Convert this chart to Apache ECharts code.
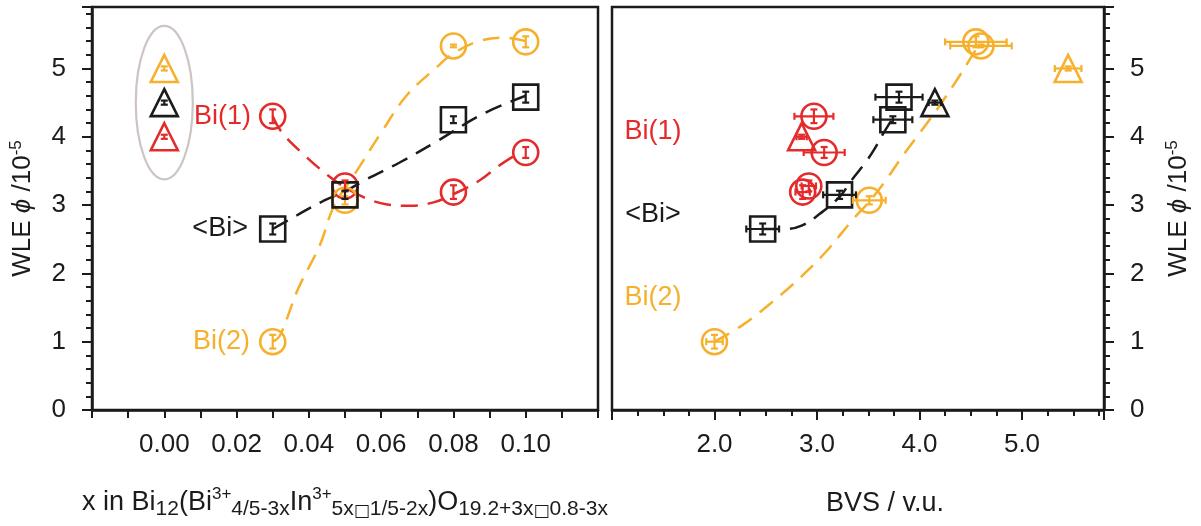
<!DOCTYPE html>
<html>
<head>
<meta charset="utf-8">
<script src="https://cdn.jsdelivr.net/npm/echarts@6/dist/echarts.min.js"></script>
<style>
html, body { margin: 0; padding: 0; background: #fff; }
#chart { width: 1201px; height: 526px; }
</style>
</head>
<body>
<div id="chart"></div>
<script>
// WLE vs composition x (left) and vs BVS (right)
const RED = '#e42a2a';
const YEL = '#f6b02c';
const BLK = '#1b1b1b';
const FONT = '"Liberation Sans", Arial, sans-serif';

// composition x
const compX = [0.03, 0.05, 0.08, 0.10];
const bi1Wle = [4.30, 3.28, 3.19, 3.77];
const bi2Wle = [1.00, 3.07, 5.33, 5.39];
const avgWle = [2.65, 3.15, 4.25, 4.58];
const bi1WleErr = [0.10, 0.08, 0.10, 0.08];
const bi2WleErr = [0.10, 0.06, 0.02, 0.08];
const avgWleErr = [0.08, 0.06, 0.05, 0.08];

// x = 0 reference (triangles): Bi(1), <Bi>, Bi(2)
const refX = 0;
const refWle = [4.00, 4.50, 5.00];
const refWleErr = [0.03, 0.03, 0.03];

// BVS of the same points
const bi1Bvs = [2.97, 2.92, 2.86, 3.07];
const bi2Bvs = [2.00, 3.51, 4.60, 4.55];
const avgBvs = [2.47, 3.22, 3.74, 3.80];
const refBvs = [2.85, 4.15, 5.45];
const bi1BvsErr = [0.19, 0.07, 0.07, 0.20];
const bi2BvsErr = [0.08, 0.16, 0.30, 0.30];
const avgBvsErr = [0.16, 0.16, 0.19, 0.23];
const refBvsErr = [0.05, 0.06, 0.13];

// dashed guide curves
const bi1CurveComp = [[0.03, 4.30], [0.0326, 4.06], [0.039, 3.72], [0.0454, 3.43], [0.05, 3.26], [0.0554, 3.11],
  [0.0617, 3.01], [0.068, 2.99], [0.0745, 3.04], [0.08, 3.16], [0.0872, 3.36], [0.0927, 3.58], [0.098, 3.76]];
const bi2CurveComp = [[0.03, 1.00], [0.032, 1.09], [0.037, 1.77], [0.043, 2.41], [0.047, 2.99], [0.053, 3.48],
  [0.06, 4.06], [0.067, 4.60], [0.075, 5.00], [0.08, 5.22], [0.087, 5.40], [0.094, 5.45], [0.10, 5.40]];
const avgCurveComp = [[0.03, 2.65], [0.033, 2.74], [0.044, 3.06], [0.05, 3.20], [0.056, 3.38], [0.065, 3.62],
  [0.075, 3.92], [0.088, 4.33], [0.10, 4.60]];
const bi2CurveBvs = [[2.00, 1.00], [2.28, 1.25], [2.57, 1.59], [2.83, 1.93], [3.09, 2.32], [3.35, 2.79], [3.51, 3.05],
  [3.67, 3.36], [3.85, 3.75], [4.00, 4.05], [4.18, 4.42], [4.39, 4.89], [4.51, 5.18], [4.57, 5.33]];
const avgCurveBvs = [[2.47, 2.65], [2.70, 2.65], [2.85, 2.70], [3.00, 2.84], [3.22, 3.12], [3.33, 3.35],
  [3.48, 3.64], [3.56, 3.82], [3.64, 4.03], [3.73, 4.25]];

const chart = echarts.init(document.getElementById('chart'));

const zip = (xs, ys) => xs.map((x, i) => [x, ys[i]]);
const zipErr = (xs, ys, ex, ey) => xs.map((x, i) => [x, ys[i], ex ? ex[i] : 0, ey[i]]);

function errRender(color) {
  return function (params, api) {
    const x = api.value(0), y = api.value(1), ex = api.value(2), ey = api.value(3);
    const c = api.coord([x, y]);
    const st = { stroke: color, lineWidth: 2.2, fill: null };
    const kids = [];
    if (ey > 0) {
      const a = api.coord([x, y + ey]), b = api.coord([x, y - ey]);
      kids.push({ type: 'line', shape: { x1: c[0], y1: a[1], x2: c[0], y2: b[1] }, style: st });
      kids.push({ type: 'line', shape: { x1: c[0] - 3.5, y1: a[1], x2: c[0] + 3.5, y2: a[1] }, style: st });
      kids.push({ type: 'line', shape: { x1: c[0] - 3.5, y1: b[1], x2: c[0] + 3.5, y2: b[1] }, style: st });
    }
    if (ex > 0) {
      const l = api.coord([x - ex, y]), r = api.coord([x + ex, y]);
      kids.push({ type: 'line', shape: { x1: l[0], y1: c[1], x2: r[0], y2: c[1] }, style: st });
      kids.push({ type: 'line', shape: { x1: l[0], y1: c[1] - 3.5, x2: l[0], y2: c[1] + 3.5 }, style: st });
      kids.push({ type: 'line', shape: { x1: r[0], y1: c[1] - 3.5, x2: r[0], y2: c[1] + 3.5 }, style: st });
    }
    return { type: 'group', children: kids };
  };
}

function errSeries(data, color, gi) {
  return { type: 'custom', xAxisIndex: gi, yAxisIndex: gi, data: data, renderItem: errRender(color), clip: false, z: 4, silent: true };
}

function curve(data, color, gi) {
  return {
    type: 'line', xAxisIndex: gi, yAxisIndex: gi, data: data, smooth: 0.4, showSymbol: false, symbol: 'none',
    lineStyle: { color: color, width: 2.5, type: [17, 10], opacity: 1 }, z: 2, silent: true
  };
}

function marks(data, symbol, colors, gi, size) {
  return {
    type: 'scatter', xAxisIndex: gi, yAxisIndex: gi, symbol: symbol, symbolSize: size || 25, z: 3, silent: true,
    data: data.map((d, i) => {
      const item = (d && d.value) ? d : { value: d };
      item.itemStyle = { color: 'rgba(0,0,0,0)', borderColor: Array.isArray(colors) ? colors[i] : colors, borderWidth: 2.6, opacity: 1 };
      return item;
    })
  };
}

function tagged(points, text, color, dist) {
  return points.map((p, i) => i === 0 ? {
    value: p,
    label: { show: true, position: 'left', distance: dist, formatter: text, color: color, fontSize: 27, fontFamily: FONT, opacity: 1 }
  } : p);
}

const refColors = [RED, BLK, YEL];
const axisLineStyle = { color: BLK, width: 2.5 };
const tickStyle = { color: BLK, width: 2 };
const labelBase = { color: BLK, fontSize: 26, fontFamily: FONT };

function wleName(gap) {
  return {
    name: 'WLE {i|ϕ} /10{p|-5}', nameLocation: 'middle', nameRotate: 90, nameGap: gap,
    nameTextStyle: {
      color: BLK, fontSize: 26, fontFamily: FONT, lineHeight: 30,
      rich: {
        i: { fontSize: 26, fontFamily: FONT, fontStyle: 'italic', color: BLK },
        p: { fontSize: 17, fontFamily: FONT, color: BLK, verticalAlign: 'top', lineHeight: 17 }
      }
    }
  };
}

const intLabel = v => (Math.abs(v - Math.round(v)) < 1e-6 && v <= 5) ? String(Math.round(v)) : '';

const option = {
  animation: false,
  backgroundColor: '#fff',
  grid: [
    { left: 92, top: 7, width: 506, height: 403, show: true, borderColor: BLK, borderWidth: 2.5, backgroundColor: 'transparent' },
    { left: 612, top: 7, width: 492, height: 403, show: true, borderColor: BLK, borderWidth: 2.5, backgroundColor: 'transparent' }
  ],
  xAxis: [
    {
      gridIndex: 0, type: 'value', position: 'bottom', min: -0.02, max: 0.12, interval: 0.01,
      axisLine: { show: true, onZero: false, lineStyle: axisLineStyle },
      axisTick: { show: true, length: 8, lineStyle: tickStyle },
      splitLine: { show: false },
      axisLabel: Object.assign({}, labelBase, {
        margin: 22,
        formatter: function (v) {
          const r = Math.round(v * 100);
          if (r < 0 || r > 10 || r % 2) return '';
          return (r / 100).toFixed(2);
        }
      }),
      name: 'x in Bi{s|12}(Bi{p|3+}{s|4/5-3x}In{p|3+}{s|5x}{b|□}{s|1/5-2x})O{s|19.2+3x}{b|□}{s|0.8-3x}',
      nameLocation: 'middle', nameGap: 76,
      nameTextStyle: {
        color: BLK, fontSize: 27, fontFamily: FONT, lineHeight: 34,
        rich: {
          s: { fontSize: 21, fontFamily: FONT, color: BLK, verticalAlign: 'bottom', lineHeight: 20 },
          p: { fontSize: 17, fontFamily: FONT, color: BLK, verticalAlign: 'top', lineHeight: 16 },
          b: { fontSize: 17, fontFamily: '"DejaVu Sans", sans-serif', color: BLK, verticalAlign: 'bottom', lineHeight: 26 }
        }
      }
    },
    {
      gridIndex: 1, type: 'value', position: 'bottom', min: 1, max: 5.8, interval: 1,
      axisLine: { show: true, onZero: false, lineStyle: axisLineStyle },
      axisTick: { show: true, length: 10, lineStyle: tickStyle },
      splitLine: { show: false },
      axisLabel: Object.assign({}, labelBase, {
        margin: 22,
        formatter: function (v) {
          return (v >= 2 && v <= 5 && Math.abs(v - Math.round(v)) < 1e-6) ? v.toFixed(1) : '';
        }
      }),
      name: 'BVS / v.u.', nameLocation: 'middle', nameGap: 80,
      nameTextStyle: { color: BLK, fontSize: 27, fontFamily: FONT, padding: [0, 0, 0, 54] }
    },
    {
      gridIndex: 1, type: 'value', position: 'bottom', min: 1, max: 5.8, interval: 0.25,
      axisLine: { show: false, onZero: false },
      axisTick: { show: true, length: 6, lineStyle: tickStyle },
      axisLabel: { show: false }, splitLine: { show: false }
    }
  ],
  yAxis: [
    Object.assign({
      gridIndex: 0, type: 'value', position: 'left', min: 0, max: 5.9, interval: 1,
      axisLine: { show: true, onZero: false, lineStyle: axisLineStyle },
      axisTick: { show: true, length: 10, lineStyle: tickStyle },
      splitLine: { show: false },
      axisLabel: Object.assign({}, labelBase, { margin: 26, formatter: intLabel })
    }, wleName(54)),
    Object.assign({
      gridIndex: 1, type: 'value', position: 'right', min: 0, max: 5.9, interval: 1,
      axisLine: { show: true, onZero: false, lineStyle: axisLineStyle },
      axisTick: { show: true, length: 10, lineStyle: tickStyle },
      splitLine: { show: false },
      axisLabel: Object.assign({}, labelBase, { margin: 26, formatter: intLabel })
    }, wleName(60)),
    {
      gridIndex: 0, type: 'value', position: 'left', min: 0, max: 5.9, interval: 0.2,
      axisLine: { show: false, onZero: false },
      axisTick: { show: true, length: 6, lineStyle: tickStyle },
      axisLabel: { show: false }, splitLine: { show: false }
    },
    {
      gridIndex: 1, type: 'value', position: 'right', min: 0, max: 5.9, interval: 0.2,
      axisLine: { show: false, onZero: false },
      axisTick: { show: true, length: 6, lineStyle: tickStyle },
      axisLabel: { show: false }, splitLine: { show: false }
    }
  ],
  series: [
    // grey ellipse around the x = 0 triangles
    {
      type: 'custom', xAxisIndex: 0, yAxisIndex: 0, clip: false, silent: true, z: 1,
      data: [[refX, Math.min.apply(null, refWle), Math.max.apply(null, refWle)]],
      renderItem: function (params, api) {
        const lo = api.coord([api.value(0), api.value(1)]);
        const hi = api.coord([api.value(0), api.value(2)]);
        return {
          type: 'ellipse',
          shape: { cx: lo[0], cy: (lo[1] + hi[1]) / 2, rx: 28.5, ry: (lo[1] - hi[1]) / 2 + 42.5 },
          style: { fill: null, stroke: '#cdc5c1', lineWidth: 2.2 }
        };
      }
    },
    // left panel
    curve(bi1CurveComp, RED, 0),
    curve(bi2CurveComp, YEL, 0),
    curve(avgCurveComp, BLK, 0),
    marks(tagged(zip(compX, bi1Wle), 'Bi(1)', RED, 8), 'circle', RED, 0),
    marks(tagged(zip(compX, bi2Wle), 'Bi(2)', YEL, 9), 'circle', YEL, 0),
    marks(tagged(zip(compX, avgWle), '<Bi>', BLK, 11), 'rect', BLK, 0),
    marks(refWle.map(w => [refX, w]), 'triangle', refColors, 0, 27),
    errSeries(zipErr(compX, bi1Wle, null, bi1WleErr), RED, 0),
    errSeries(zipErr(compX, bi2Wle, null, bi2WleErr), YEL, 0),
    errSeries(zipErr(compX, avgWle, null, avgWleErr), BLK, 0),
    {
      type: 'custom', xAxisIndex: 0, yAxisIndex: 0, clip: false, silent: true, z: 4,
      data: refWle.map((w, i) => [refX, w, 0, refWleErr[i], i]),
      renderItem: function (params, api) {
        return errRender(refColors[api.value(4)])(params, api);
      }
    },
    // right panel
    curve(bi2CurveBvs, YEL, 1),
    curve(avgCurveBvs, BLK, 1),
    marks(zip(bi1Bvs, bi1Wle), 'circle', RED, 1),
    marks(zip(bi2Bvs, bi2Wle), 'circle', YEL, 1),
    marks(zip(avgBvs, avgWle), 'rect', BLK, 1),
    marks(zip(refBvs, refWle), 'triangle', refColors, 1, 27),
    errSeries(zipErr(bi1Bvs, bi1Wle, bi1BvsErr, bi1WleErr), RED, 1),
    errSeries(zipErr(bi2Bvs, bi2Wle, bi2BvsErr, bi2WleErr), YEL, 1),
    errSeries(zipErr(avgBvs, avgWle, avgBvsErr, avgWleErr), BLK, 1),
    {
      type: 'custom', xAxisIndex: 1, yAxisIndex: 1, clip: false, silent: true, z: 4,
      data: refBvs.map((b, i) => [b, refWle[i], refBvsErr[i], refWleErr[i], i]),
      renderItem: function (params, api) {
        return errRender(refColors[api.value(4)])(params, api);
      }
    },
    // site labels in the right panel
    {
      type: 'scatter', xAxisIndex: 1, yAxisIndex: 1, symbolSize: 1, silent: true, z: 5,
      itemStyle: { color: 'rgba(0,0,0,0)', opacity: 1 },
      label: { show: true, position: 'inside', fontSize: 27, fontFamily: FONT, opacity: 1 },
      data: [
        { value: [1.40, 4.08], label: { formatter: 'Bi(1)', color: RED } },
        { value: [1.40, 2.86], label: { formatter: '<Bi>', color: BLK } },
        { value: [1.40, 1.64], label: { formatter: 'Bi(2)', color: YEL } }
      ]
    }
  ]
};

chart.setOption(option);
</script>
</body>
</html>
